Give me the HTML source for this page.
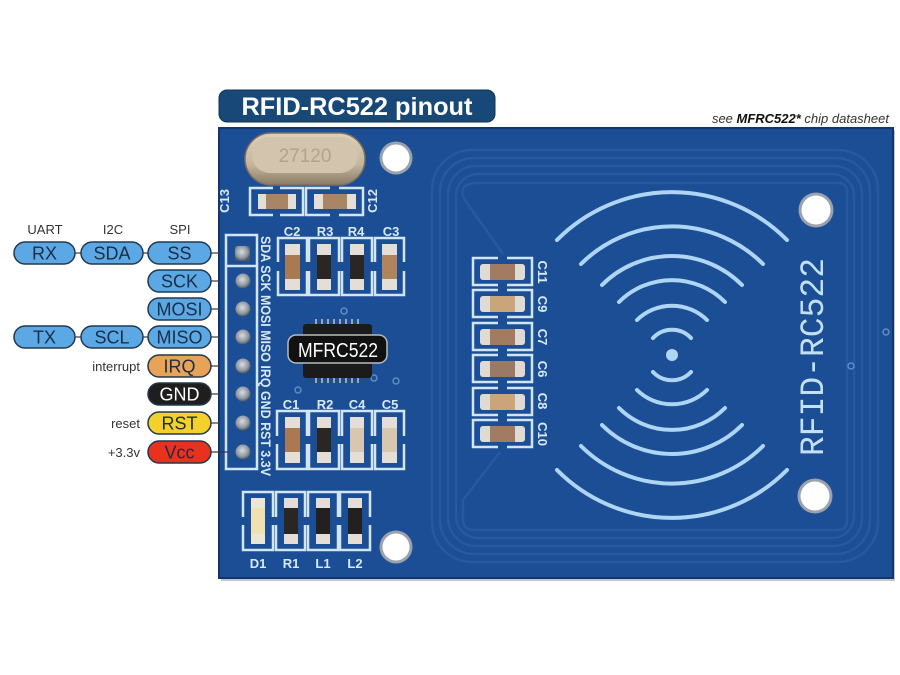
<!DOCTYPE html>
<html><head><meta charset="utf-8"><style>
html,body{margin:0;padding:0;background:#fff;}
svg{display:block;}
text{font-family:"Liberation Sans",sans-serif;}
</style></head><body>
<svg width="900" height="675" viewBox="0 0 900 675" xmlns="http://www.w3.org/2000/svg">
<defs>
<linearGradient id="xtal" x1="0" y1="0" x2="0" y2="1">
<stop offset="0" stop-color="#ddd0ba"/><stop offset="0.6" stop-color="#c6b69d"/><stop offset="1" stop-color="#8a7b66"/>
</linearGradient>
<radialGradient id="pad" cx="0.45" cy="0.4" r="0.6">
<stop offset="0" stop-color="#d8dde2"/><stop offset="0.7" stop-color="#8c959e"/><stop offset="1" stop-color="#4a5560"/>
</radialGradient>
</defs>
<rect width="900" height="675" fill="#fff"/>

<!-- Title -->
<rect x="219" y="90" width="276" height="32" rx="8" fill="#174878" stroke="#0f3358" stroke-width="1"/>
<text x="357" y="115" font-size="25" font-weight="bold" fill="#fff" text-anchor="middle" textLength="231" lengthAdjust="spacingAndGlyphs">RFID-RC522 pinout</text>
<text x="889" y="123" font-size="13" font-style="italic" fill="#333" text-anchor="end">see <tspan font-weight="bold" fill="#111">MFRC522*</tspan> chip datasheet</text>

<!-- Board -->
<rect x="221" y="130" width="674" height="451" fill="#c4c8cc"/>
<rect x="219" y="128" width="674" height="450" fill="#1c4e95" stroke="#10366a" stroke-width="2"/>

<!-- antenna traces -->
<g fill="none" stroke="#2758a0" stroke-width="2.5">
<rect x="432" y="150" width="446" height="412" rx="40"/>
<rect x="440" y="158" width="430" height="396" rx="34"/>
<rect x="448" y="166" width="414" height="380" rx="28"/>
<rect x="456" y="174" width="398" height="364" rx="22"/>
<path d="M503 254 L465 200 Q461 194 463 189 Q466 183 476 183 L838 183 Q847 183 847 192 L847 521 Q847 530 838 530 L474 530 Q463 530 463 519 L463 500 L500 452"/>
</g>

<!-- wave arcs -->
<g fill="none" stroke="#aed6f4" stroke-width="4" stroke-linecap="round">
<path d="M557 240 A162 162 0 0 1 787 240"/>
<path d="M581 264 A129 129 0 0 1 763 264"/>
<path d="M602 285 A99 99 0 0 1 742 285"/>
<path d="M619 302 A75 75 0 0 1 725 302"/>
<path d="M637 320 A50 50 0 0 1 707 320"/>
<path d="M653 338 A26 26 0 0 1 691 338"/>
<path d="M557 470 A162 162 0 0 0 787 470"/>
<path d="M581 446 A129 129 0 0 0 763 446"/>
<path d="M602 425 A99 99 0 0 0 742 425"/>
<path d="M619 408 A75 75 0 0 0 725 408"/>
<path d="M637 390 A50 50 0 0 0 707 390"/>
<path d="M653 372 A26 26 0 0 0 691 372"/>
</g>
<circle cx="672" cy="355" r="6" fill="#aed6f4"/>

<!-- big vertical text -->
<text transform="translate(823,456) rotate(-90)" font-size="34" fill="#c4e0f6" textLength="198" lengthAdjust="spacingAndGlyphs" style="font-family:'Liberation Mono',monospace">RFID-RC522</text>

<!-- holes -->
<g>
<circle cx="396" cy="158" r="16.5" fill="#9aa3ad"/><circle cx="396" cy="158" r="13.5" fill="#fff"/>
<circle cx="816" cy="210" r="17.5" fill="#9aa3ad"/><circle cx="816" cy="210" r="14.5" fill="#fff"/>
<circle cx="815" cy="496" r="17.5" fill="#9aa3ad"/><circle cx="815" cy="496" r="14.5" fill="#fff"/>
<circle cx="396" cy="547" r="16.5" fill="#9aa3ad"/><circle cx="396" cy="547" r="13.5" fill="#fff"/>
</g>
<!-- small vias -->
<g fill="none" stroke="#5f8cc4" stroke-width="1.5">
<circle cx="886" cy="332" r="3"/><circle cx="851" cy="366" r="3"/><circle cx="344" cy="311" r="3"/>
<circle cx="374" cy="378" r="3"/><circle cx="396" cy="381" r="3"/><circle cx="298" cy="390" r="3"/>
</g>

<!-- crystal -->
<rect x="245" y="133" width="120" height="52" rx="26" fill="url(#xtal)" stroke="#7d705f" stroke-width="1.5"/>
<rect x="252" y="137" width="106" height="36" rx="18" fill="#d2c4ad"/>
<text x="305" y="162" font-size="19" fill="#b3a38b" text-anchor="middle">27120</text>

<!-- silkscreen style -->
<g fill="none" stroke="#d2e5f5" stroke-width="2.5">
<path d="M273 188 H250 V215 H273 M280 188 H303 V215 H280"/>
<path d="M330 188 H306 V215 H330 M339 188 H363 V215 H339"/>
<path d="M278 262 V238 H307 V262 M278 271 V295 H307 V271"/>
<path d="M309 262 V238 H339 V262 M309 271 V295 H339 V271"/>
<path d="M342 262 V238 H372 V262 M342 271 V295 H372 V271"/>
<path d="M375 262 V238 H404 V262 M375 271 V295 H404 V271"/>
<path d="M277 436 V411 H307 V436 M277 444 V469 H307 V444"/>
<path d="M309 436 V411 H339 V436 M309 444 V469 H339 V444"/>
<path d="M342 436 V411 H372 V436 M342 444 V469 H372 V444"/>
<path d="M375 436 V411 H404 V436 M375 444 V469 H404 V444"/>
<path d="M243 517 V492 H273 V517 M243 525 V550 H273 V525"/>
<path d="M276 517 V492 H305 V517 M276 525 V550 H305 V525"/>
<path d="M308 517 V492 H338 V517 M308 525 V550 H338 V525"/>
<path d="M340 517 V492 H370 V517 M340 525 V550 H370 V525"/>
<rect x="226" y="235" width="31" height="234"/>
<line x1="226" y1="266" x2="257" y2="266"/>
</g>
<g fill="none" stroke="#d2e5f5" stroke-width="2.5">
<path d="M498 258 H473 V285 H498 M507 258 H532 V285 H507"/>
<path d="M498 290 H473 V317 H498 M507 290 H532 V317 H507"/>
<path d="M498 323 H473 V350 H498 M507 323 H532 V350 H507"/>
<path d="M498 355 H473 V382 H498 M507 355 H532 V382 H507"/>
<path d="M498 388 H473 V415 H498 M507 388 H532 V415 H507"/>
<path d="M498 420 H473 V447 H498 M507 420 H532 V447 H507"/>
</g>

<!-- component bodies: horizontal -->
<g>
<rect x="258" y="194" width="38" height="15" fill="#e4ded6"/><rect x="266" y="194" width="22" height="15" fill="#a88566"/>
<rect x="314" y="194" width="42" height="15" fill="#e4ded6"/><rect x="323" y="194" width="24" height="15" fill="#a88566"/>
<rect x="480" y="264" width="45" height="16" rx="3" fill="#e0dad2"/><rect x="490" y="264" width="25" height="16" fill="#a27c62"/>
<rect x="480" y="296" width="45" height="16" rx="3" fill="#e0dad2"/><rect x="490" y="296" width="25" height="16" fill="#caa57a"/>
<rect x="480" y="329" width="45" height="16" rx="3" fill="#e0dad2"/><rect x="490" y="329" width="25" height="16" fill="#a27c62"/>
<rect x="480" y="361" width="45" height="16" rx="3" fill="#e0dad2"/><rect x="490" y="361" width="25" height="16" fill="#9a7a66"/>
<rect x="480" y="394" width="45" height="16" rx="3" fill="#e0dad2"/><rect x="490" y="394" width="25" height="16" fill="#caa57a"/>
<rect x="480" y="426" width="45" height="16" rx="3" fill="#e0dad2"/><rect x="490" y="426" width="25" height="16" fill="#a27c62"/>
</g>
<!-- component bodies: vertical -->
<g>
<rect x="285" y="244" width="15" height="46" fill="#e4ded6"/><rect x="285" y="255" width="15" height="24" fill="#a97a52"/>
<rect x="317" y="244" width="14" height="46" fill="#e4ded6"/><rect x="317" y="255" width="14" height="24" fill="#2a2623"/>
<rect x="350" y="244" width="14" height="46" fill="#e4ded6"/><rect x="350" y="255" width="14" height="24" fill="#2a2623"/>
<rect x="382" y="244" width="15" height="46" fill="#e4ded6"/><rect x="382" y="255" width="15" height="24" fill="#b0855e"/>

<rect x="285" y="417" width="15" height="46" fill="#e4ded6"/><rect x="285" y="428" width="15" height="24" fill="#a97a52"/>
<rect x="317" y="417" width="14" height="46" fill="#e4ded6"/><rect x="317" y="428" width="14" height="24" fill="#2a2623"/>
<rect x="350" y="417" width="14" height="46" fill="#e4ded6"/><rect x="350" y="428" width="14" height="24" fill="#d8c6ae"/>
<rect x="382" y="417" width="15" height="46" fill="#e4ded6"/><rect x="382" y="428" width="15" height="24" fill="#d8c6ae"/>

<rect x="251" y="498" width="14" height="46" fill="#ece6d2"/><rect x="251" y="508" width="14" height="26" fill="#efe2b0"/>
<rect x="284" y="498" width="14" height="46" fill="#e4ded6"/><rect x="284" y="508" width="14" height="26" fill="#2a2623"/>
<rect x="316" y="498" width="14" height="46" fill="#e4ded6"/><rect x="316" y="508" width="14" height="26" fill="#232120"/>
<rect x="348" y="498" width="14" height="46" fill="#e4ded6"/><rect x="348" y="508" width="14" height="26" fill="#232120"/>
</g>

<!-- silkscreen labels -->
<g fill="#d8e9f7" font-size="13" font-weight="bold" text-anchor="middle">
<text x="292" y="236">C2</text><text x="325" y="236">R3</text><text x="356" y="236">R4</text><text x="391" y="236">C3</text>
<text x="291" y="409">C1</text><text x="325" y="409">R2</text><text x="357" y="409">C4</text><text x="390" y="409">C5</text>
<text x="258" y="568">D1</text><text x="291" y="568">R1</text><text x="323" y="568">L1</text><text x="355" y="568">L2</text>
<text transform="translate(229,201) rotate(-90)">C13</text>
<text transform="translate(377,201) rotate(-90)">C12</text>
<text transform="translate(538,272) rotate(90)">C11</text>
<text transform="translate(538,304) rotate(90)">C9</text>
<text transform="translate(538,337) rotate(90)">C7</text>
<text transform="translate(538,369) rotate(90)">C6</text>
<text transform="translate(538,401) rotate(90)">C8</text>
<text transform="translate(538,434) rotate(90)">C10</text>
</g>
<text transform="translate(261,236) rotate(90)" fill="#d8e9f7" font-size="14" font-weight="bold" textLength="240" lengthAdjust="spacingAndGlyphs">SDA SCK MOSI MISO IRQ GND RST 3.3V</text>

<!-- header pins -->
<rect x="235" y="246" width="15" height="15" rx="2" fill="url(#pad)"/>
<g fill="url(#pad)">
<circle cx="243" cy="281" r="7.5"/><circle cx="243" cy="309" r="7.5"/><circle cx="243" cy="337" r="7.5"/>
<circle cx="243" cy="366" r="7.5"/><circle cx="243" cy="394" r="7.5"/><circle cx="243" cy="423" r="7.5"/>
<circle cx="243" cy="452" r="7.5"/>
</g>

<!-- chip -->
<rect x="303" y="324" width="69" height="54" rx="3" fill="#1b1b1b"/>
<g fill="#9ea6ae">
<rect x="315" y="319" width="2" height="5"/><rect x="321" y="319" width="2" height="5"/><rect x="327" y="319" width="2" height="5"/><rect x="333" y="319" width="2" height="5"/><rect x="339" y="319" width="2" height="5"/><rect x="345" y="319" width="2" height="5"/><rect x="351" y="319" width="2" height="5"/><rect x="357" y="319" width="2" height="5"/>
<rect x="315" y="378" width="2" height="5"/><rect x="321" y="378" width="2" height="5"/><rect x="327" y="378" width="2" height="5"/><rect x="333" y="378" width="2" height="5"/><rect x="339" y="378" width="2" height="5"/><rect x="345" y="378" width="2" height="5"/><rect x="351" y="378" width="2" height="5"/><rect x="357" y="378" width="2" height="5"/>
</g>
<rect x="288" y="335" width="99" height="28" rx="8" fill="#111" stroke="#b8bcbe" stroke-width="1.5"/>
<text x="338" y="357" font-size="20" fill="#fff" text-anchor="middle" textLength="80" lengthAdjust="spacingAndGlyphs">MFRC522</text>

<!-- connector lines -->
<g stroke="#3a3a3a" stroke-width="1.2">
<line x1="75" y1="253" x2="81" y2="253"/><line x1="143" y1="253" x2="148" y2="253"/>
<line x1="75" y1="337" x2="81" y2="337"/><line x1="143" y1="337" x2="148" y2="337"/>
<line x1="211" y1="253" x2="220" y2="253"/><line x1="211" y1="281" x2="220" y2="281"/>
<line x1="211" y1="309" x2="220" y2="309"/><line x1="211" y1="337" x2="220" y2="337"/>
<line x1="211" y1="366" x2="220" y2="366"/><line x1="211" y1="394" x2="220" y2="394"/>
<line x1="211" y1="423" x2="220" y2="423"/><line x1="211" y1="452" x2="228" y2="452"/>
</g>

<!-- pills -->
<g stroke="#22384f" stroke-width="1.5">
<rect x="14" y="242" width="61" height="22" rx="11" fill="#5ca8e4"/>
<rect x="81" y="242" width="62" height="22" rx="11" fill="#5ca8e4"/>
<rect x="148" y="242" width="63" height="22" rx="11" fill="#5ca8e4"/>
<rect x="148" y="270" width="63" height="22" rx="11" fill="#5ca8e4"/>
<rect x="148" y="298" width="63" height="22" rx="11" fill="#5ca8e4"/>
<rect x="14" y="326" width="61" height="22" rx="11" fill="#5ca8e4"/>
<rect x="81" y="326" width="62" height="22" rx="11" fill="#5ca8e4"/>
<rect x="148" y="326" width="63" height="22" rx="11" fill="#5ca8e4"/>
<rect x="148" y="355" width="63" height="22" rx="11" fill="#e9a357"/>
<rect x="148" y="383" width="63" height="22" rx="11" fill="#1e1e1e"/>
<rect x="148" y="412" width="63" height="22" rx="11" fill="#f4d02a"/>
<rect x="148" y="441" width="63" height="22" rx="11" fill="#e8321e"/>
</g>
<g font-size="18" fill="#1a2e48" text-anchor="middle">
<text x="44.5" y="259.5">RX</text><text x="112" y="259.5">SDA</text><text x="179.5" y="259.5">SS</text>
<text x="179.5" y="287.5">SCK</text><text x="179.5" y="315.5">MOSI</text>
<text x="44.5" y="343.5">TX</text><text x="112" y="343.5">SCL</text><text x="179.5" y="343.5">MISO</text>
<text x="179.5" y="372.5">IRQ</text>
<text x="179.5" y="400.5" fill="#fff">GND</text>
<text x="179.5" y="429.5">RST</text>
<text x="179.5" y="458.5">Vcc</text>
</g>
<g font-size="13" fill="#333">
<text x="45" y="234" text-anchor="middle">UART</text>
<text x="113" y="234" text-anchor="middle">I2C</text>
<text x="180" y="234" text-anchor="middle">SPI</text>
<text x="140" y="371" text-anchor="end">interrupt</text>
<text x="140" y="428" text-anchor="end">reset</text>
<text x="140" y="457" text-anchor="end">+3.3v</text>
</g>
</svg>
</body></html>
